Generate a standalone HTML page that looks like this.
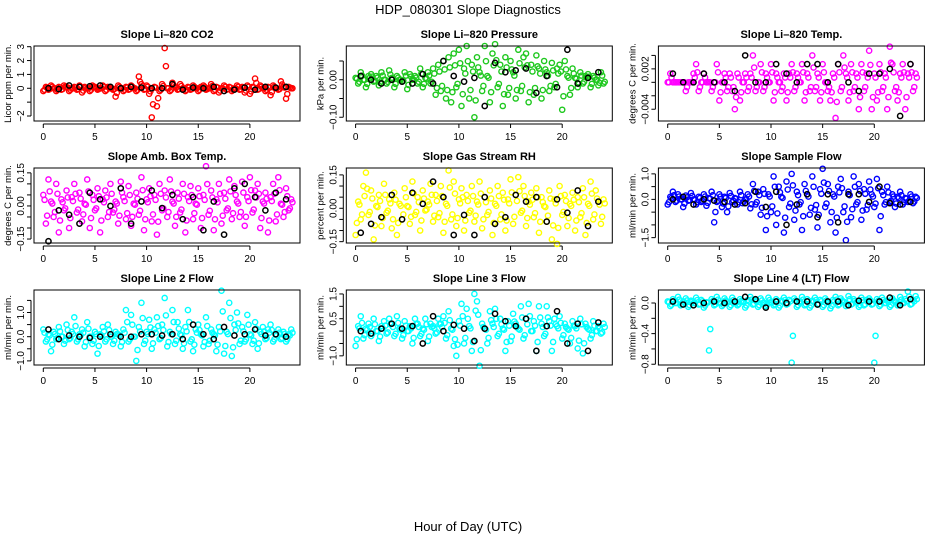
<!DOCTYPE html>
<html><head><meta charset="utf-8"><style>
html,body{margin:0;padding:0;background:#fff;}
svg{display:block;font-family:"Liberation Sans",sans-serif;}
</style></head><body>
<svg id="chart" width="936" height="540" viewBox="0 0 936 540">
<text x="468" y="14" text-anchor="middle" font-size="13">HDP_080301  Slope Diagnostics</text>
<text x="468" y="531" text-anchor="middle" font-size="13">Hour of Day (UTC)</text>
</svg>
<script>
const p1c=[-0.2,0.1,-0.1,0.2,0,-0.2,0.1,-0.1,0.2,0.1,-0.2,0,0.1,-0.1,0.2,-0.3,0.1,0,-0.2,0.2,0.1,-0.1,0,0.2,-0.2,0.1,0,-0.1,-0.6,0.2,0,-0.2,0.1,-0.1,0.2,0,-0.2,0.85,0.3,-0.1,0.2,-0.4,-2.1,0.1,-1.3,-0.2,0.3,2.9,0,-0.2,0.4,0.1,-0.1,0.3,0,-0.2,0.1,-0.1,0.2,0,-0.2,0.1,0.2,-0.1,0,0.3,-0.2,0.1,-0.3,0,0.2,-0.1,0.1,-0.2,0,0.2,-0.1,0.1,-0.3,0.2,-0.4,0.1,0.7,-0.1,0.2,0,-0.2,0.1,-0.5,0.2,0,-0.1,0.5,0.1,-0.75,0.1,0];
const p1k=[0,-0.05,0.2,0.1,0.15,0.2,0.1,0,0.1,0.05,0,0,0.3,-0.1,0.05,0,0.1,-0.2,-0.1,0.05,-0.1,0.1,0.05,0.1];
const p2c=[0.005,-0.01,0.02,0,-0.02,0.01,0.015,-0.005,0.01,-0.015,0.02,0,-0.01,0.025,0.005,-0.02,0.01,0,-0.005,0.02,-0.025,0.015,0,0.01,-0.01,0.03,-0.02,0.005,0.02,-0.01,0.03,-0.04,0.04,-0.03,0.05,-0.05,0.06,-0.06,0.07,-0.02,0.08,-0.07,0.03,0.09,-0.05,0.04,-0.1,0.06,0.02,-0.03,0.09,0.01,-0.06,0.07,0.095,-0.02,0.04,-0.07,0.06,-0.04,0.05,0.02,-0.05,0.08,-0.03,0.06,0.07,-0.06,0.04,-0.04,0.065,0.03,-0.05,0.05,0.02,-0.03,0.045,-0.02,0.03,0.04,-0.08,0.05,0.01,-0.04,0.03,0.005,-0.02,0.02,-0.01,0.01,0.015,-0.02,0.01,0,-0.015,0.02,-0.01];
const p2k=[0.01,0,-0.01,0,-0.005,-0.01,0.015,-0.01,0.05,0.01,-0.005,0.005,-0.07,0.045,0.02,0.025,0.03,-0.035,0.01,-0.02,0.08,-0.01,0.005,0.02];
const p3c=[0,0.0013,0,0,0,0,0,-0.0013,0,0,0.0013,0.0027,-0.0013,0,0.0013,0,0,-0.0013,0,0.0027,-0.0027,0,0.0013,-0.0013,0.0013,-0.0013,-0.004,0.0013,-0.0027,0,0.0013,-0.0013,0.0013,0.004,-0.0013,0,0.0027,-0.0013,0.0013,0,0.0027,-0.0027,0.0013,0,-0.0013,0.0013,-0.0027,0.0013,0.0027,-0.0013,0.0013,0,0.0027,-0.0027,0.0013,-0.0013,0.004,-0.0013,0.0013,-0.0027,0.0027,0,-0.0013,-0.0027,0.0013,-0.0053,0.0027,-0.0013,0.004,0.0013,-0.0027,0.0027,-0.0013,0.0013,-0.004,0.0027,-0.0013,0.0013,0.0047,-0.004,0.0013,-0.0027,0.0027,-0.0013,0.0013,-0.004,0.0053,0.0027,-0.0013,-0.0027,0.0013,0.0027,-0.004,0.0013,0.0027,-0.0013,0.0013];
const p3k=[0.0013,0,0,0.0013,0,0,-0.0013,0.004,0,0,0.0027,0.0013,0,0.0027,0.0027,0,0.0027,0,-0.0013,0.0013,0.0013,0.002,-0.005,0.0027];
const p4c=[0.05,-0.08,0.12,0.02,-0.05,0.1,-0.12,0.03,-0.02,0.07,-0.1,0.04,0.1,-0.03,0.06,-0.07,0.01,0.12,-0.1,0.05,-0.02,0.08,-0.12,0.03,0.07,-0.05,0.1,-0.03,0.02,-0.08,0.11,0.04,-0.06,0.09,-0.09,0.01,0.06,-0.04,0.13,-0.11,0.03,0.08,-0.07,0.05,-0.13,0.1,-0.02,0.07,-0.05,0.12,0.02,-0.09,0.06,-0.03,0.1,-0.12,0.04,0.09,-0.06,0.01,0.08,-0.1,0.05,0.18,-0.04,0.07,-0.11,0.03,0.1,-0.08,0.06,-0.02,0.12,-0.06,0.09,0.02,-0.05,0.11,-0.09,0.04,0.13,-0.03,0.07,0.1,-0.1,0.02,0.06,-0.12,0.04,0.1,-0.07,0.13,0.01,-0.05,0.08,-0.02,0.03];
const p4k=[-0.16,-0.02,-0.04,-0.08,0.06,0.03,0,0.08,-0.08,0.02,0.07,-0.01,0.05,-0.06,0.04,-0.11,0.02,-0.13,0.08,0.1,0.04,-0.02,0.06,0.03];
const p5c=[-0.12,0.03,-0.05,0.1,0.16,-0.03,0.08,-0.14,0.01,0.06,-0.08,0.11,-0.02,0.04,-0.09,0.07,-0.12,0.02,-0.05,0.09,0.01,-0.07,0.12,-0.03,0.05,-0.1,0.08,-0.01,0.03,0.11,-0.06,0.06,-0.04,0.1,-0.11,0.02,0.17,-0.05,0.12,-0.08,0.04,0.09,-0.1,0.06,-0.02,0.1,-0.06,0.03,0.12,-0.09,0.05,-0.03,0.08,-0.12,0.02,0.1,-0.05,0.07,-0.1,0.04,0.13,-0.07,0.06,0.14,-0.02,0.1,-0.08,0.03,0.07,-0.04,0.09,-0.11,0.05,0.01,-0.06,0.08,-0.14,0.04,-0.16,0.1,-0.03,0.06,-0.08,0.02,0.07,-0.1,0.05,-0.04,0.09,-0.12,0.02,0.12,-0.05,0.08,0.03,-0.07,0.04];
const p5k=[-0.11,-0.07,-0.04,0.06,-0.05,0.07,0.02,0.12,0.05,-0.12,-0.03,-0.12,0.05,-0.07,-0.04,0.06,0.03,0.05,-0.06,0.04,-0.02,0.08,-0.08,0.03];
const p6c=[-0.2,0.1,0.3,-0.1,0.2,0,-0.3,0.15,-0.05,0.25,0,-0.2,0.1,-0.1,0.2,-0.25,0.05,0.3,-0.9,-0.1,0.2,-0.3,0.1,-0.5,0.25,-0.1,0.05,-0.2,0.3,-0.15,0,0.2,-0.35,0.6,-0.2,0.3,-0.6,0.4,-1.2,0.2,-0.5,0.9,-1.0,0.5,0.1,-1.3,0.7,-0.3,1.0,-0.8,0.3,-0.2,-1.2,0.6,0.2,-0.6,0.9,-0.4,-1.1,0.4,1.2,-0.3,0.6,-0.9,0.2,-1.3,0.5,0.8,-0.5,-1.6,0.3,-0.7,0.9,-0.2,0.6,-0.8,0.4,-0.4,0.7,0.2,-0.3,0.8,-1.2,0.3,-0.2,0.5,-0.1,0.2,-0.3,0.1,0.3,-0.2,0.05,-0.1,0.2,-0.15,0.1];
const p6k=[0,0.1,-0.2,0,-0.05,-0.1,-0.2,-0.15,0.3,-0.3,0.3,-1.0,-0.2,0.2,-0.7,0.2,-0.9,0.2,0.2,-0.1,0.5,-0.15,-0.2,-0.1];
const p7c=[0.3,-0.2,0.1,-0.6,0.2,-0.1,0.4,0,-0.3,0.5,-0.1,0.2,0.8,-0.2,0.1,0.3,-0.4,0.6,0,-0.3,0.2,-0.7,0.1,0.4,-0.2,0.5,0,-0.3,0.2,0.1,-0.4,0.3,1.1,-0.2,0.9,0,-1.0,0.4,1.4,-0.3,0.2,0.7,-0.5,0.3,0.8,-0.1,0.5,1.6,-0.4,0.2,1.1,-0.3,0.6,0.1,-0.5,0.4,1.1,-0.2,-0.6,0.3,0.5,0.1,-0.4,0.8,-0.3,0.3,0.1,-0.6,0.4,1.9,-0.7,0.2,1.4,-0.8,0.5,1.0,-0.3,0.4,-0.2,0.9,0.1,-0.3,0.6,-0.5,0.2,0.4,-0.1,0.3,0.5,-0.2,0.1,0.3,-0.1,0.2,-0.2,0.1,0.3];
const p7k=[0.3,-0.1,0.05,0,-0.05,0,0.1,0,0,0.1,0.1,0.05,0.1,-0.1,0.5,0.1,-0.1,0.4,0.05,0.1,0.3,0.05,0.1,0];
const p8c=[-0.6,0.2,0.6,-0.3,0.1,0.3,-0.2,0.5,0,-0.4,0.2,0.4,-0.1,0.5,0.3,-0.2,0.6,0.1,-0.3,0.4,0,0.2,-0.5,0.5,0.3,-0.2,0.1,0.5,-0.4,0.3,0.2,-0.1,0.5,0.3,0.6,-0.3,0.8,0.1,-0.6,-1.0,0.4,1.1,-0.5,0.9,0.2,-0.8,1.5,1.2,-1.4,0.3,0.1,-0.5,0.8,0.3,0.9,-0.2,0.5,0.1,-0.8,0.4,-0.4,0.7,0.3,0.1,1.0,-0.3,0.5,1.1,0,0.4,-0.8,1.0,0.3,-0.2,1.0,0.4,-0.8,0.5,0.2,0.6,-0.3,0.3,0.1,-0.5,0.4,0.2,-0.7,0.5,-0.9,0.3,0.1,-0.3,0.4,0,0.2,-0.1,0.3];
const p8k=[0,-0.1,0.1,0.3,0.1,0.2,-0.5,0.6,0,0.25,0.1,-0.4,0.1,0.7,0.4,0.2,0.5,-0.8,0.2,0.8,-0.5,0.3,-0.8,0.35];
const p9c=[0.02,-0.04,0.05,0,0.08,-0.03,0.02,0.06,-0.05,0.03,0,0.07,-0.02,0.04,-0.06,0.01,-0.62,0.05,-0.03,0.08,0,-0.04,0.06,0.02,-0.05,0.07,0,-0.03,0.05,0.02,-0.06,0.04,0.08,-0.02,0.03,-0.05,0.06,0,-0.04,0.07,0.01,-0.03,0.05,-0.06,0.03,0.07,-0.02,0.04,-0.78,0.06,-0.05,0.02,0.08,-0.03,0.05,-0.06,0.03,0.07,-0.02,0.04,-0.05,0.06,0.01,-0.07,0.04,0.08,-0.03,0.06,0.02,-0.04,0.09,-0.02,0.05,0.01,-0.05,0.07,-0.03,0.04,0.06,-0.02,-0.78,0.05,-0.04,0.07,0,0.03,-0.05,0.06,0.02,-0.03,0.08,0,0.05,0.15,-0.02,0.04,0.09];
const p9k=[0.02,-0.02,-0.03,0,0.02,0,0.02,0.08,0.05,-0.06,0.02,0,0.02,0.02,-0.02,0.02,0.02,-0.03,0.03,0.02,0.02,0.07,-0.03,0.05];
const xTicks=[0,5,10,15,20];
const titles=["Slope Li\u2013820 CO2","Slope Li\u2013820 Pressure","Slope Li\u2013820 Temp.","Slope Amb. Box Temp.","Slope Gas Stream RH","Slope Sample Flow","Slope Line 2 Flow","Slope Line 3 Flow","Slope Line 4 (LT) Flow"];
const ylabs=["Licor ppm per min.","kPa per min.","degrees C per min.","degrees C per min.","percent per min.","ml/min per min.","ml/min per min.","ml/min per min.","ml/min per min."];
const colored=[p1c,p2c,p3c,p4c,p5c,p6c,p7c,p8c,p9c];
const black=[p1k,p2k,p3k,p4k,p5k,p6k,p7k,p8k,p9k];
const colors=["#ff0000","#1ec81e","#ff00ff","#ff00ff","#ffff00","#0000ff","#00ffff","#00ffff","#00ffff"];
const ylims=[[-2.36,3.05],[-0.110,0.090],[-0.00575,0.0054],[-0.168,0.172],[-0.156,0.181],[-1.71,1.23],[-1.17,1.93],[-1.37,1.66],[-0.81,0.17]];
const yTicks=[[-2,-1,0,1,2,3],[-0.1,-0.05,0,0.05],[-0.004,-0.002,0,0.002,0.004],[-0.15,-0.1,-0.05,0,0.05,0.1,0.15],[-0.15,-0.1,-0.05,0,0.05,0.1,0.15],[-1.5,-1,-0.5,0,0.5,1],[-1,-0.5,0,0.5,1,1.5],[-1,-0.5,0,0.5,1,1.5],[-0.8,-0.6,-0.4,-0.2,0]];
const yLabVals=[[-2,0,1,2,3],[-0.1,0],[-0.004,0.002],[-0.15,0,0.15],[-0.15,0,0.15],[-1.5,0,1],[-1,0,1],[-1,0.5,1.5],[-0.8,-0.4,0]];
const yLabText=[["\u22122","0","1","2","3"],["\u22120.10","0.00"],["\u22120.004","0.002"],["\u22120.15","0.00","0.15"],["\u22120.15","0.00","0.15"],["\u22121.5","0.0","1.0"],["\u22121.0","0.0","1.0"],["\u22121.0","0.5","1.5"],["\u22120.8","\u22120.4","0.0"]];

const svg=document.getElementById('chart');
const NS='http://www.w3.org/2000/svg';
function mk(tag,attrs,parent){const e=document.createElementNS(NS,tag);for(const k in attrs)e.setAttribute(k,attrs[k]);(parent||svg).appendChild(e);return e;}
const rowTop=[46,168,290], col0=[43.3,355.6,667.7], BH=75, BW=266, PXH=10.33;
for(let p=0;p<9;p++){
  const r=Math.floor(p/3), c=p%3;
  const x0=col0[c], top=rowTop[r], left=x0-9.3, bottom=top+BH;
  const [ymin,ymax]=ylims[p];
  const X=h=>x0+h*PXH;
  const Y=v=>bottom-(v-ymin)/(ymax-ymin)*BH;
  const g=mk('g',{});
  
  
  const t=mk('text',{x:left+BW/2,y:top-8,'text-anchor':'middle','font-size':11,'font-weight':'bold'},g);
  t.textContent=titles[p];
  
  
  const yt=mk('text',{transform:`translate(${left-23},${top+BH/2}) rotate(-90)`,'text-anchor':'middle','font-size':9.5},g);
  yt.textContent=ylabs[p];
  
  
  // x axis
  const xa=mk('g',{stroke:'#000','stroke-width':1},g);
  
  
  mk('line',{x1:X(0),x2:X(20),y1:bottom+3,y2:bottom+3},xa);
  xTicks.forEach(v=>{
    mk('line',{x1:X(v),x2:X(v),y1:bottom+3,y2:bottom+7},xa);
    const tl=mk('text',{x:X(v),y:bottom+19,'text-anchor':'middle','font-size':10,stroke:'none'},xa);
    tl.textContent=String(v);
    
    
  });
  // y axis
  const ya=mk('g',{stroke:'#000','stroke-width':1},g);
  
  
  const yt0=yTicks[p];
  mk('line',{x1:left-3,x2:left-3,y1:Y(yt0[0]),y2:Y(yt0[yt0.length-1])},ya);
  yt0.forEach(v=>{mk('line',{x1:left-3,x2:left-7,y1:Y(v),y2:Y(v)},ya);});
  yLabVals[p].forEach((v,i)=>{
    const tl=mk('text',{transform:`translate(${left-10},${Y(v)}) rotate(-90)`,'text-anchor':'middle','font-size':10,stroke:'none'},ya);
    tl.textContent=yLabText[p][i];
    
    
  });
  // points
  const cg=mk('g',{fill:'none',stroke:colors[p],'stroke-width':1.4},g);
  
  
  colored[p].forEach((v,i)=>{
    const pt=mk('circle',{cx:X(i*0.25),cy:Y(v),r:2.6},cg);
    
    
    const pt2=mk('circle',{cx:X(i*0.25+0.12),cy:Y(v*0.55),r:2.6},cg);
    
    
  });
  const kg=mk('g',{fill:'none',stroke:'#000','stroke-width':1.5},g);
  
  
  black[p].forEach((v,i)=>{
    const pt=mk('circle',{cx:X(i+0.5),cy:Y(v),r:2.6},kg);
    
    
  });
  const box=mk('rect',{x:left,y:top,width:BW,height:BH,fill:'none',stroke:'#000','stroke-width':1},g);
  
  
}
</script>
</body></html>
